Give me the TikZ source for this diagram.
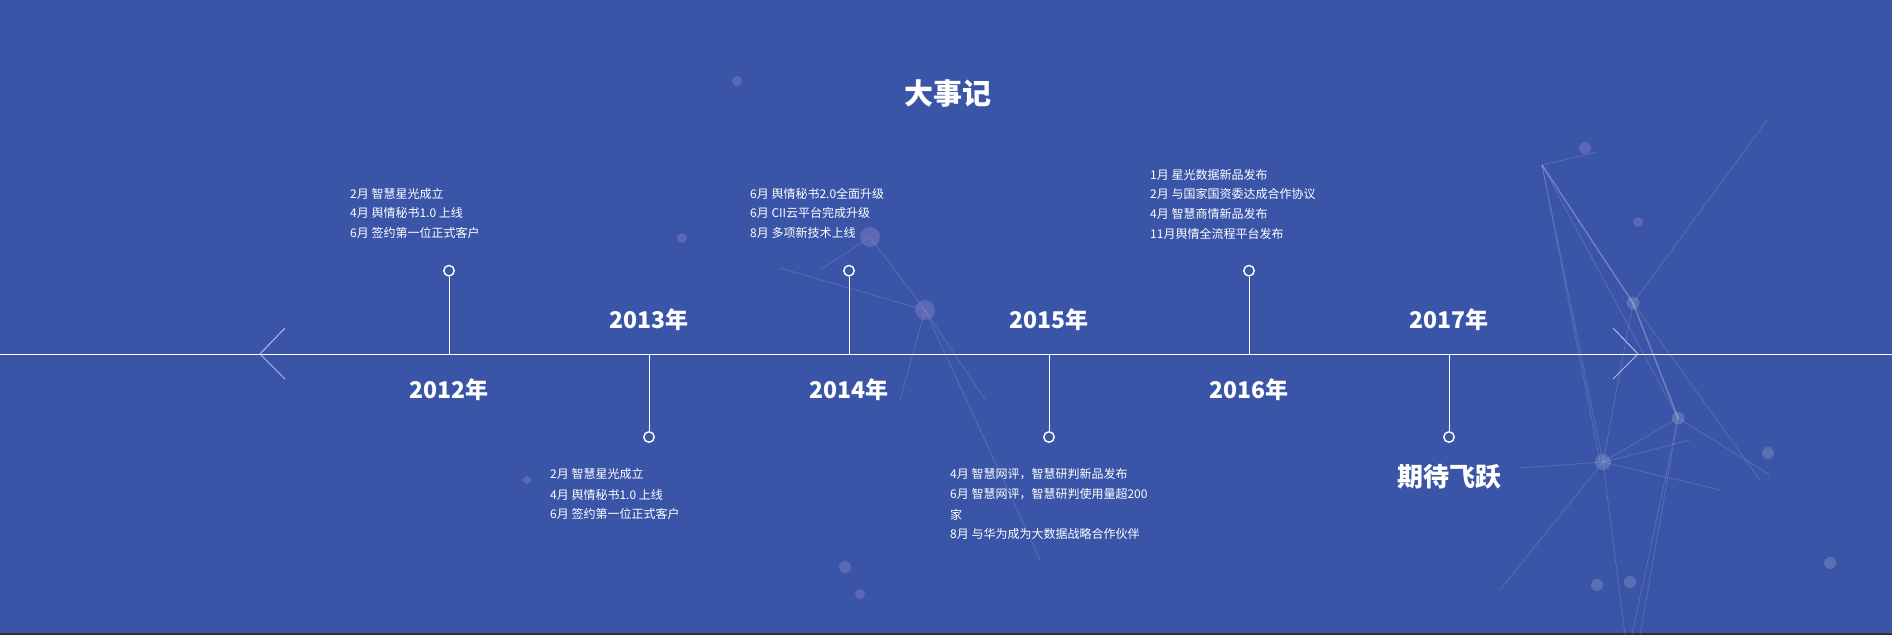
\documentclass[tikz,border=0pt]{standalone}
\usepackage{fontspec}
\setmainfont{Noto Sans CJK SC}
\definecolor{bg}{HTML}{3A55A8}
\definecolor{glowpink}{HTML}{9C8AD0}
\definecolor{bottomstrip}{HTML}{2F2F33}
\begin{document}
\begin{tikzpicture}[x=1pt,y=-1pt,
  item/.style={anchor=base west, inner sep=0pt, text=white, font=\fontsize{12}{20}\selectfont},
  year/.style={text=white, inner sep=0pt, font=\fontsize{23}{28}\selectfont\bfseries},
  dotc/.style={circle, draw=white, line width=1.4pt, fill=bg, minimum size=10.5pt, inner sep=0pt},
  axisline/.style={draw=white, line width=1pt},
  stem/.style={draw=white, line width=1pt},
  chev/.style={draw=white, draw opacity=0.6, line width=1pt},
  net/.style={draw=white, line width=0.8pt, draw opacity=0.14},
  netb/.style={draw=white, line width=1.6pt, draw opacity=0.25},
  glow/.style={fill=white, fill opacity=0.16},
  glowp/.style={fill=glowpink, fill opacity=0.35},
]
% background
\fill[bg] (0,0) rectangle (1892,635);
\fill[bottomstrip] (0,633) rectangle (1892,635);
\useasboundingbox (0,0) rectangle (1892,635);

% background network (right)
\coordinate (nA) at (1542,165);
\coordinate (nA2) at (1597,152);
\coordinate (nB) at (1633,303);
\coordinate (nC) at (1678,418);
\coordinate (nD) at (1603,462);
\draw[net] (nA) -- (nA2);
\draw[netb] (nA) -- (nB);
\draw[netb] (nB) -- (nC);
\draw[net] (nA) -- (nD);
\draw[net] (nA) -- (nC);
\draw[net] (nB) -- (1767,120);
\draw[net] (nB) -- (nD);
\draw[net] (nB) -- (1760,480);
\draw[net] (nC) -- (nD);
\draw[net] (nD) -- (1500,590);
\draw[net] (nD) -- (1625,635);
\draw[net] (nC) -- (1632,635);
\draw[net] (nC) -- (1640,635);
\draw[net] (nC) -- (1770,475);
\draw[net] (nD) -- (1690,440);
\draw[net] (nD) -- (1720,490);
\draw[net] (nA) -- (1600,462);
\draw[net] (nD) -- (1520,468);
\fill[glow] (nB) circle (6.5);
\fill[glow] (nC) circle (6.5);
\fill[glow] (nD) circle (8);
\fill[glow] (1768,453) circle (6);
\fill[glow] (1830,563) circle (6);
\fill[glow] (1597,585) circle (6);
\fill[glow] (1630,582) circle (6);
\fill[glowp] (1638,222) circle (5);
\fill[glowp] (1585,148) circle (6);

% background network (middle)
\coordinate (mA) at (870,237);
\coordinate (mB) at (925,310);
\draw[net] (mA) -- (mB);
\draw[net] (mA) -- (820,270);
\draw[net] (780,268) -- (mB);
\draw[net] (mB) -- (900,400);
\draw[net] (mB) -- (985,400);
\draw[net] (mB) -- (1040,560);
\fill[glowp] (mA) circle (10);
\fill[glowp] (mB) circle (10);
\fill[glowp] (737,81) circle (5);
\fill[glowp] (682,238) circle (5);
\fill[glowp] (527,480) circle (4);
\fill[glowp] (845,567) circle (6);
\fill[glowp] (860,594) circle (5);

% axis
\coordinate (axL) at (0,354);
\coordinate (axR) at (1892,354);
\draw[axisline] (axL) -- (axR);
\coordinate (chL) at (260,354);
\coordinate (chR) at (1638,354);
\draw[chev] (285,328) -- (chL) -- (285,379);
\draw[chev] (1613,328) -- (chR) -- (1613,379);

% title
\node[text=white, inner sep=0pt, font=\fontsize{29}{34}\selectfont\bfseries] (title) at (948,94) {大事记};

% markers
\node[dotc] (c12) at (449,270.7) {};
\node[dotc] (c13) at (649,437) {};
\node[dotc] (c14) at (849,270.7) {};
\node[dotc] (c15) at (1049,437) {};
\node[dotc] (c16) at (1249,270.7) {};
\node[dotc] (c17) at (1449,437) {};
\draw[stem] (c12.south) -- (c12.south |- axL);
\draw[stem] (c14.south) -- (c14.south |- axL);
\draw[stem] (c16.south) -- (c16.south |- axL);
\draw[stem] (c13.north |- axL) -- (c13.north);
\draw[stem] (c15.north |- axL) -- (c15.north);
\draw[stem] (c17.north |- axL) -- (c17.north);

% years
\node[year] (y12) at (449,390) {2012年};
\node[year] (y13) at (649,320) {2013年};
\node[year] (y14) at (849,390) {2014年};
\node[year] (y15) at (1049,320) {2015年};
\node[year] (y16) at (1249,390) {2016年};
\node[year] (y17) at (1449,320) {2017年};
\node[text=white, inner sep=0pt, font=\fontsize{26}{30}\selectfont\bfseries] (fut) at (1449,477) {期待飞跃};

% 2012
\node[item] (t12a) at (350,198.6) {2月 智慧星光成立};
\node[item] (t12b) at (350,217.8) {4月 舆情秘书1.0 上线};
\node[item] (t12c) at (350,237.6) {6月 签约第一位正式客户};
% 2014
\node[item] (t14a) at (750,198.6) {6月 舆情秘书2.0全面升级};
\node[item] (t14b) at (750,217.8) {6月 CII云平台完成升级};
\node[item] (t14c) at (750,237.6) {8月 多项新技术上线};
% 2016
\node[item] (t16a) at (1150,179.6) {1月 星光数据新品发布};
\node[item] (t16b) at (1150,198.8) {2月 与国家国资委达成合作协议};
\node[item] (t16c) at (1150,218.6) {4月 智慧商情新品发布};
\node[item] (t16d) at (1150,238.6) {11月舆情全流程平台发布};
% 2013
\node[item] (t13a) at (550,478.8) {2月 智慧星光成立};
\node[item] (t13b) at (550,499.2) {4月 舆情秘书1.0 上线};
\node[item] (t13c) at (550,518.8) {6月 签约第一位正式客户};
% 2015
\node[item] (t15a) at (950,478.8) {4月 智慧网评，智慧研判新品发布};
\node[item] (t15b) at (950,498.8) {6月 智慧网评，智慧研判使用量超200};
\node[item] (t15c) at (950,519.4) {家};
\node[item] (t15d) at (950,538.8) {8月 与华为成为大数据战略合作伙伴};
\end{tikzpicture}
\end{document}
